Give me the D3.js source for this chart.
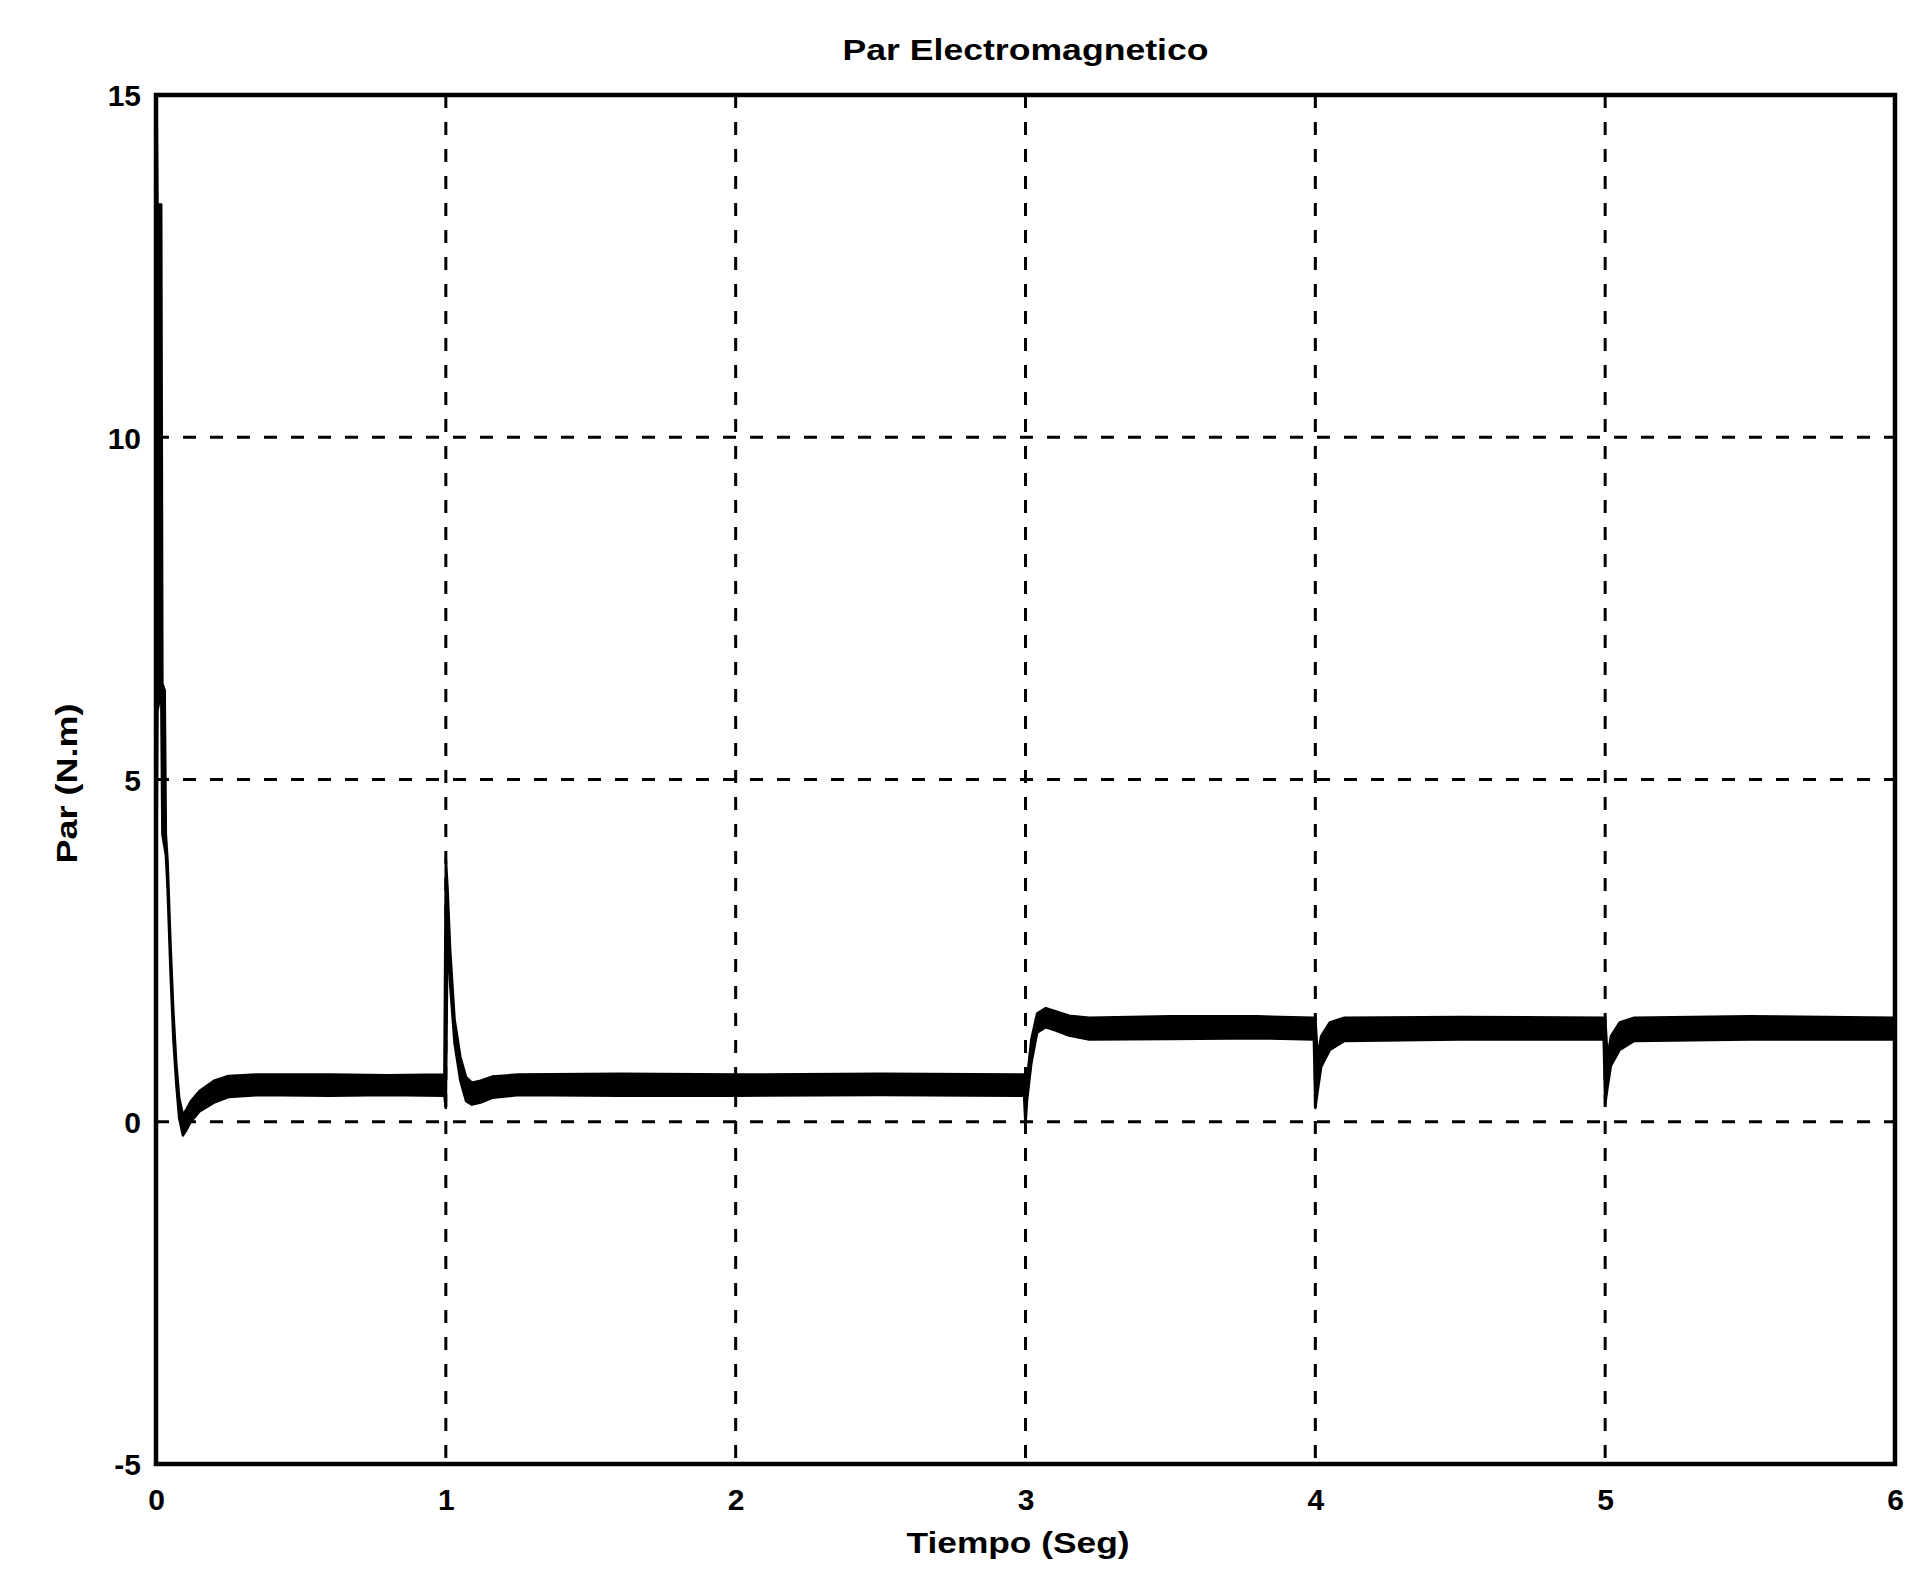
<!DOCTYPE html>
<html>
<head>
<meta charset="utf-8">
<script src="https://cdn.jsdelivr.net/npm/d3@7"></script>
<style>
  html, body { margin: 0; padding: 0; background: #fff; }
  svg { display: block; }
  text { font-family: "Liberation Sans", Arial, sans-serif; font-weight: bold; fill: #000; }
</style>
</head>
<body>
<svg id="chart" width="1921" height="1583"></svg>
<script>
// ---- data ----
const titleText = "Par Electromagnetico";
const xLabel = "Tiempo (Seg)";
const yLabel = "Par (N.m)";
const xTicks = [0, 1, 2, 3, 4, 5, 6];
const yTicks = [-5, 0, 5, 10, 15];

// Torque trace: time (s), lower and upper envelope of the (thick, rippled) trace (N.m)
const time  = [0.002, 0.005, 0.018, 0.022, 0.030, 0.034, 0.040, 0.050, 0.060, 0.070, 0.080, 0.093, 0.105, 0.12, 0.15, 0.20, 0.25, 0.35, 0.60, 0.80, 0.995,
               1.000, 1.006, 1.015, 1.03, 1.05, 1.07, 1.09, 1.12, 1.16, 1.25, 1.60, 2.00, 2.50, 2.995,
               3.000, 3.005, 3.02, 3.04, 3.07, 3.10, 3.15, 3.22, 3.50, 3.80, 3.995,
               4.000, 4.008, 4.02, 4.05, 4.10, 4.50, 4.995,
               5.000, 5.008, 5.02, 5.05, 5.10, 5.50, 6.00];
const lower = [4.0, 6.0, 6.3, 4.2, 4.0, 3.9, 3.4, 2.2, 1.2, 0.55, 0.05, -0.2, -0.12, 0.0, 0.15, 0.28, 0.36, 0.39, 0.38, 0.39, 0.38,
               0.2, 2.9, 2.0, 1.15, 0.6, 0.3, 0.25, 0.28, 0.35, 0.39, 0.38, 0.38, 0.39, 0.38,
               -0.05, 0.3, 0.85, 1.3, 1.38, 1.34, 1.26, 1.2, 1.21, 1.22, 1.2,
               0.2, 0.45, 0.8, 1.05, 1.18, 1.2, 1.2,
               0.25, 0.5, 0.82, 1.05, 1.18, 1.2, 1.2];
const upper = [15.0, 13.4, 13.4, 6.4, 6.3, 4.2, 3.8, 2.6, 1.6, 0.85, 0.35, 0.1, 0.18, 0.3, 0.45, 0.6, 0.67, 0.69, 0.69, 0.68, 0.69,
               3.85, 3.4, 2.5, 1.5, 0.95, 0.65, 0.57, 0.6, 0.66, 0.69, 0.7, 0.69, 0.7, 0.69,
               0.69, 0.6, 1.2, 1.58, 1.66, 1.62, 1.55, 1.52, 1.54, 1.54, 1.52,
               1.52, 0.95, 1.25, 1.45, 1.52, 1.53, 1.52,
               1.52, 0.95, 1.25, 1.45, 1.52, 1.54, 1.52];

// ---- layout ----
const L = 156, R = 1895, T = 95, B = 1464;
const svg = d3.select("#chart");

const x = d3.scaleLinear().domain([0, 6]).range([L, R]);
const y = d3.scaleLinear().domain([-5, 15]).range([B, T]);
const fmt = d => String(d); // plain hyphen-minus as in the original

// grid
const grid = svg.append("g");
grid.selectAll("line.v").data(xTicks.slice(1, -1)).join("line")
  .attr("x1", d => x(d)).attr("x2", d => x(d))
  .attr("y1", T).attr("y2", B)
  .attr("stroke", "#000").attr("stroke-width", 3)
  .attr("stroke-dasharray", "13,14");
grid.selectAll("line.h").data(yTicks.slice(1, -1)).join("line")
  .attr("x1", L).attr("x2", R)
  .attr("y1", d => y(d)).attr("y2", d => y(d))
  .attr("stroke", "#000").attr("stroke-width", 3)
  .attr("stroke-dasharray", "13,14");

// trace
const pts = time.map((t, i) => ({t, lo: lower[i], hi: upper[i]}));
const area = d3.area()
  .x(d => x(d.t))
  .y0(d => y(d.lo))
  .y1(d => y(d.hi));
svg.append("path")
  .datum(pts)
  .attr("d", area)
  .attr("fill", "#000")
  .attr("stroke", "#000")
  .attr("stroke-width", 2.5)
  .attr("stroke-linejoin", "round");

// frame
svg.append("rect")
  .attr("x", L).attr("y", T)
  .attr("width", R - L).attr("height", B - T)
  .attr("fill", "none").attr("stroke", "#000").attr("stroke-width", 4.5);

// axes (labels only, as in MATLAB style)
const xAxis = d3.axisBottom(x).tickValues(xTicks).tickSize(0).tickPadding(0).tickFormat(fmt);
const gx = svg.append("g").attr("transform", `translate(0,${B})`).call(xAxis);
gx.select(".domain").remove();
gx.selectAll("text")
  .attr("dy", null).attr("y", 46)
  .style("font-size", "30px").style("font-weight", "bold")
  .style("font-family", "'Liberation Sans', Arial, sans-serif");

const yAxis = d3.axisLeft(y).tickValues(yTicks).tickSize(0).tickPadding(0).tickFormat(fmt);
const gy = svg.append("g").attr("transform", `translate(${L},0)`).call(yAxis);
gy.select(".domain").remove();
gy.selectAll("text")
  .attr("x", -15).attr("dy", "0.36em")
  .style("font-size", "30px").style("font-weight", "bold")
  .style("font-family", "'Liberation Sans', Arial, sans-serif");

// titles
svg.append("text")
  .attr("x", (L + R) / 2).attr("y", 60)
  .attr("text-anchor", "middle")
  .attr("textLength", 366).attr("lengthAdjust", "spacingAndGlyphs")
  .style("font-size", "29px")
  .text(titleText);

svg.append("text")
  .attr("x", 1018).attr("y", 1553)
  .attr("text-anchor", "middle")
  .attr("textLength", 223).attr("lengthAdjust", "spacingAndGlyphs")
  .style("font-size", "29px")
  .text(xLabel);

svg.append("text")
  .attr("transform", `translate(77,${(T + B) / 2 + 4}) rotate(-90)`)
  .attr("text-anchor", "middle")
  .attr("textLength", 160).attr("lengthAdjust", "spacingAndGlyphs")
  .style("font-size", "29px")
  .text(yLabel);
</script>
</body>
</html>
